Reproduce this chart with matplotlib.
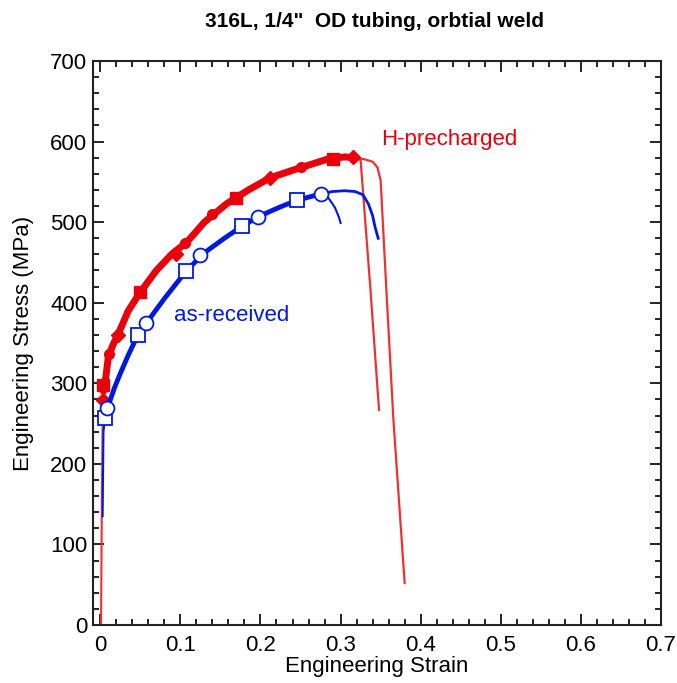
import numpy as np
import matplotlib
matplotlib.use('Agg')
import matplotlib.pyplot as plt
from matplotlib.ticker import MultipleLocator

plt.rcParams['font.family'] = ['Liberation Sans', 'DejaVu Sans']

# H-precharged, shared hardening part (strain, MPa)
red_x = [0.001, 0.002, 0.003, 0.004, 0.006, 0.01, 0.016, 0.022, 0.035, 0.05, 0.07,
         0.09, 0.108, 0.13, 0.158, 0.185, 0.212, 0.245, 0.283, 0.305, 0.318]
red_y = [0, 150, 250, 290, 300, 332, 348, 360, 390, 413, 440,
         461, 475, 500, 523, 540, 555, 566, 578, 581, 580]
# two specimens after the peak
red_a_x = [0.318, 0.325, 0.337, 0.348]
red_a_y = [580, 577, 420, 267]
red_b_x = [0.318, 0.33, 0.34, 0.346, 0.35, 0.357, 0.366, 0.38]
red_b_y = [580, 578, 575, 568, 552, 419, 254, 52]

# as-received
blue_x = [0.003, 0.004, 0.006, 0.01, 0.018, 0.025, 0.035, 0.047, 0.06, 0.08, 0.107,
          0.13, 0.155, 0.177, 0.2, 0.225, 0.245, 0.275]
blue_y = [135, 240, 257, 272, 295, 312, 335, 360, 378, 405, 439,
          462, 480, 495, 508, 519, 527, 535]
blue_a_x = [0.275, 0.282, 0.287, 0.293, 0.298, 0.3]
blue_a_y = [535, 534, 527, 518, 506, 499]
blue_b_x = [0.275, 0.29, 0.305, 0.318, 0.328, 0.335, 0.34, 0.343, 0.347]
blue_b_y = [535, 538, 539, 538, 534, 522, 508, 494, 480]

# markers
red_sq_x, red_sq_y = [0.004, 0.05, 0.17, 0.29], [298, 413, 530, 578]
red_dm_x, red_dm_y = [0.004, 0.022, 0.094, 0.212, 0.316], [279, 360, 461, 555, 581]
red_ci_x, red_ci_y = [0.011, 0.106, 0.14, 0.25], [336, 474, 510, 568]
blue_sq_x = [0.006, 0.047, 0.107, 0.177, 0.245]
blue_sq_y = [257, 360, 439, 495, 527]
blue_ci_x = [0.009, 0.057, 0.125, 0.197, 0.275]
blue_ci_y = [269, 375, 459, 507, 535]

red = '#e8000b'
blue = '#0019e0'

fig = plt.figure(figsize=(6.77, 6.83), dpi=100)
ax = fig.add_axes([0.1374, 0.0849, 0.839, 0.8258])

ax.plot(red_x[:4], red_y[:4], color='#f03030', lw=1.5)
ax.plot(red_x[3:], red_y[3:], color=red, lw=5, solid_capstyle='round')
ax.plot(red_a_x, red_a_y, color='#f03030', lw=1.6)
ax.plot(red_b_x, red_b_y, color='#f03030', lw=1.6)
ax.plot(red_sq_x, red_sq_y, 's', color=red, ms=9, ls='none')
ax.plot(red_dm_x, red_dm_y, 'D', color=red, ms=7, ls='none')
ax.plot(red_ci_x, red_ci_y, 'o', color=red, ms=7, ls='none')

ax.plot(blue_x[:3], blue_y[:3], color=blue, lw=1.5)
ax.plot(blue_x[2:], blue_y[2:], color=blue, lw=3.5)
ax.plot(blue_a_x, blue_a_y, color=blue, lw=1.5)
ax.plot(blue_b_x, blue_b_y, color=blue, lw=2)
ax.plot(blue_sq_x, blue_sq_y, 's', mfc='white', mec=blue, mew=1.3, ms=10, ls='none')
ax.plot(blue_ci_x, blue_ci_y, 'o', mfc='white', mec=blue, mew=1.3, ms=10, ls='none')

ax.text(0.350, 602, 'H-precharged', color=red, fontsize=16, va='center')
ax.text(0.092, 384, 'as-received', color=blue, fontsize=16, va='center')

ax.set_xlim(-0.009, 0.7)
ax.set_ylim(0, 700)
ax.xaxis.set_minor_locator(MultipleLocator(0.02))
ax.yaxis.set_major_locator(MultipleLocator(100))
ax.yaxis.set_minor_locator(MultipleLocator(20))
ax.set_xticks(np.arange(0, 0.71, 0.1))
ax.set_xticklabels(['0', '0.1', '0.2', '0.3', '0.4', '0.5', '0.6', '0.7'])
ax.tick_params(which='both', direction='in', top=True, right=True, labelsize=16)
ax.tick_params(axis='x', pad=7)
ax.tick_params(axis='y', pad=4)
ax.tick_params(which='major', length=8, width=1.2)
ax.tick_params(which='minor', length=4, width=1.2)
for s in ax.spines.values():
    s.set_linewidth(1.5)
    s.set_color('#222222')

ax.set_xlabel('Engineering Strain', fontsize=16, labelpad=0)
ax.set_ylabel('Engineering Stress (MPa)', fontsize=16, labelpad=12)
fig.suptitle('316L, 1/4"  OD tubing, orbtial weld', fontsize=15, fontweight='bold',
             x=0.553, y=0.982)

fig.savefig('out.png', dpi=100)
